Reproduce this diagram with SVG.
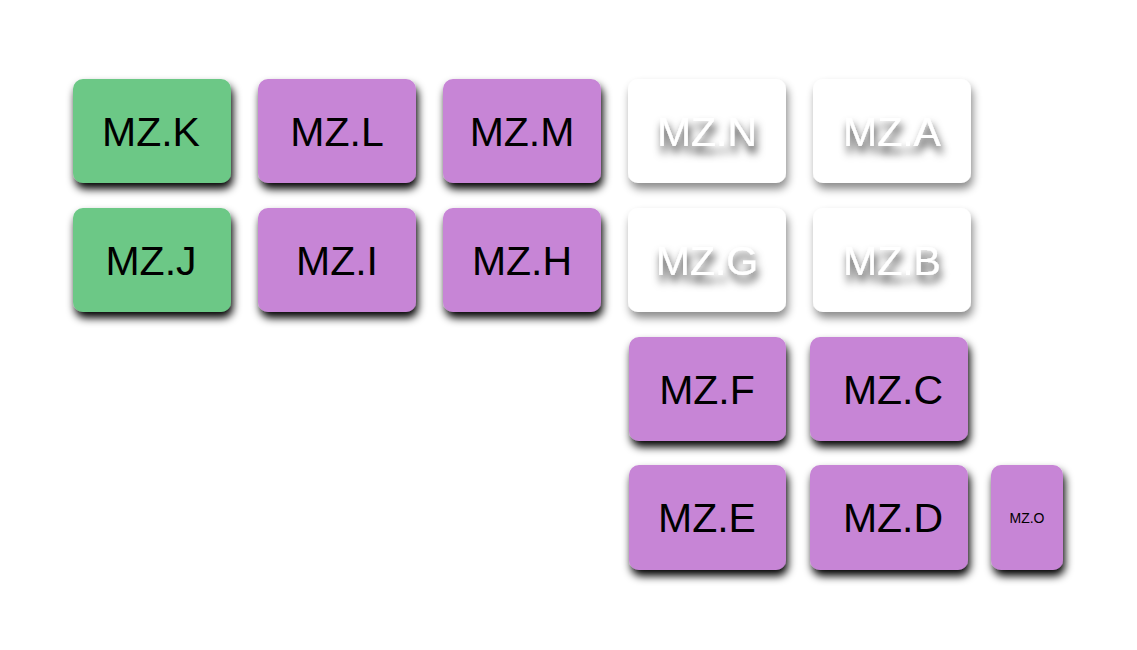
<svg xmlns="http://www.w3.org/2000/svg" width="1137" height="650" viewBox="0 0 1137 650">
<defs>
<filter id="sh" x="-20%" y="-20%" width="140%" height="160%">
<feDropShadow dx="2" dy="6" stdDeviation="4" flood-color="#000" flood-opacity="1"/>
</filter>
<filter id="shw" x="-20%" y="-20%" width="140%" height="160%">
<feDropShadow dx="2" dy="6" stdDeviation="4" flood-color="#000" flood-opacity="0.45"/>
</filter>
<filter id="tsh" x="-30%" y="-40%" width="160%" height="200%">
<feDropShadow dx="2" dy="7" stdDeviation="4.5" flood-color="#000" flood-opacity="0.8"/>
</filter>
</defs>
<style>
.g{fill:#6cc886}
.p{fill:#c785d6}
.w{fill:#ffffff}
rect{filter:url(#sh)}
rect.w{filter:url(#shw)}
text{font-family:"Liberation Sans",Arial,sans-serif;font-size:41px;fill:#000;text-anchor:middle}
text.wt{fill:#fff;filter:url(#tsh)}
text.s{font-size:14px}
</style>
<rect width="1137" height="650" fill="#fff" style="filter:none"/>
<g id="node-K"><rect class="g" x="73" y="79" width="158" height="104" rx="10"/><text x="151" y="146">MZ.K</text></g>
<g id="node-L"><rect class="p" x="258" y="79" width="158" height="104" rx="10"/><text x="337" y="146">MZ.L</text></g>
<g id="node-M"><rect class="p" x="443" y="79" width="158" height="104" rx="10"/><text x="522" y="146">MZ.M</text></g>
<g id="node-N"><rect class="w" x="628" y="79" width="158" height="104" rx="10"/><text class="wt" x="707" y="146">MZ.N</text></g>
<g id="node-A"><rect class="w" x="813" y="79" width="158" height="104" rx="10"/><text class="wt" x="892" y="146">MZ.A</text></g>
<g id="node-J"><rect class="g" x="73" y="208" width="158" height="104" rx="10"/><text x="151" y="275">MZ.J</text></g>
<g id="node-I"><rect class="p" x="258" y="208" width="158" height="104" rx="10"/><text x="337" y="275">MZ.I</text></g>
<g id="node-H"><rect class="p" x="443" y="208" width="158" height="104" rx="10"/><text x="522" y="275">MZ.H</text></g>
<g id="node-G"><rect class="w" x="628" y="208" width="158" height="104" rx="10"/><text class="wt" x="707" y="275">MZ.G</text></g>
<g id="node-B"><rect class="w" x="813" y="208" width="158" height="104" rx="10"/><text class="wt" x="892" y="275">MZ.B</text></g>
<g id="node-F"><rect class="p" x="629" y="337" width="157" height="104" rx="10"/><text x="707" y="404">MZ.F</text></g>
<g id="node-C"><rect class="p" x="810" y="337" width="158" height="104" rx="10"/><text x="893" y="404">MZ.C</text></g>
<g id="node-E"><rect class="p" x="629" y="465" width="157" height="105" rx="10"/><text x="707" y="532">MZ.E</text></g>
<g id="node-D"><rect class="p" x="810" y="465" width="158" height="105" rx="10"/><text x="893" y="532">MZ.D</text></g>
<g id="node-O"><rect class="p" x="991" y="465" width="72" height="105" rx="10"/><text class="s" x="1027" y="523">MZ.O</text></g>
<g id="connectors"></g>
</svg>
